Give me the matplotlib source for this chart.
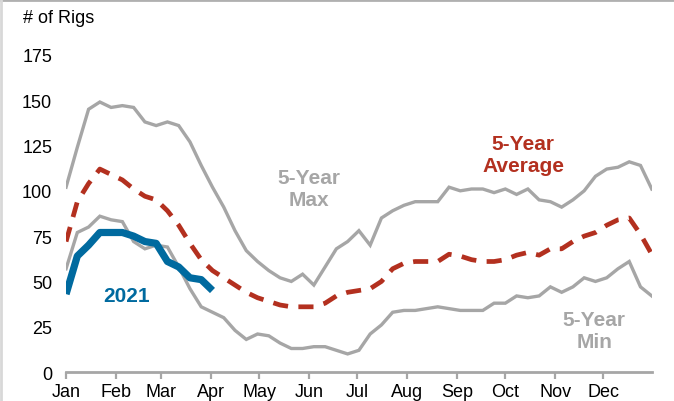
import numpy as np
import matplotlib.pyplot as plt
from matplotlib.lines import Line2D

plt.rcParams['font.family'] = ['Liberation Sans', 'DejaVu Sans']

# weekly rig counts, week 0 = first week of January
max_5yr = [102, 124, 145, 149, 146, 147, 146, 138, 136, 138, 136, 127, 114, 102,
           91, 78, 67, 61, 56, 52, 50, 54, 48, 58, 68, 72, 78, 70, 85, 89, 92,
           94, 94, 94, 102, 100, 101, 101, 99, 101, 98, 101, 95, 94, 91, 95,
           100, 108, 112, 113, 116, 114, 101]
min_5yr = [57, 77, 80, 86, 84, 83, 72, 68, 70, 69, 58, 46, 36, 33, 30, 23, 18,
           21, 20, 16, 13, 13, 14, 14, 12, 10, 12, 21, 26, 33, 34, 34, 35, 36,
           35, 34, 34, 34, 38, 38, 42, 41, 42, 47, 44, 47, 52, 50, 52, 57, 61,
           47, 42]
avg_5yr = [72, 94, 104, 112, 109, 106, 101, 97, 95, 89, 81, 71, 62, 56, 52, 48,
           44, 41, 39, 37, 36, 36, 36, 38, 42, 44, 45, 46, 50, 57, 60, 61, 61,
           61, 65, 64, 62, 61, 61, 62, 64.5, 66, 64.5, 68, 68, 72, 75, 77, 81,
           84, 85, 76, 65]
rigs_2021 = [43, 64, 70, 77, 77, 77, 75, 72, 71, 61, 58, 52, 51, 45]

months = ['Jan', 'Feb', 'Mar', 'Apr', 'May', 'Jun',
          'Jul', 'Aug', 'Sep', 'Oct', 'Nov', 'Dec']
month_start_day = [0, 31, 59, 90, 120, 151, 181, 212, 243, 273, 304, 334]

GRAY = '#a6a6a6'
RED = '#b3301f'
BLUE = '#006a9f'

fig = plt.figure(figsize=(6.74, 4.02), dpi=100)
ax = fig.add_axes([0.098, 0.072, 0.869, 0.789])

weeks = np.arange(len(max_5yr))
ax.plot(weeks, max_5yr, color=GRAY, lw=2.4, solid_joinstyle='miter')
ax.plot(weeks, min_5yr, color=GRAY, lw=2.4, solid_joinstyle='miter')
ax.plot(weeks, avg_5yr, color=RED, lw=3.4, dashes=(3.2, 2.2))
ax.plot(np.arange(len(rigs_2021)), rigs_2021, color=BLUE, lw=5.2,
        solid_capstyle='butt')

lab = dict(fontsize=15, fontweight='bold', ha='center', va='center',
           linespacing=1.2)
ax.text(21.6, 101.5, '5-Year\nMax', color=GRAY, **lab)
ax.text(40.6, 120, '5-Year\nAverage', color=RED, **lab)
ax.text(46.9, 23, '5-Year\nMin', color=GRAY, **lab)
ax.text(5.4, 42, '2021', color=BLUE, **lab)

ax.set_xlim(0, 52)
ax.set_ylim(0, 175)
ax.set_yticks(np.arange(0, 176, 25))
ax.set_xticks(np.array(month_start_day) / 7)
ax.set_xticklabels(months)

for s in ['top', 'right', 'left']:
    ax.spines[s].set_visible(False)
ax.spines['bottom'].set_color(GRAY)
ax.spines['bottom'].set_linewidth(2)
ax.tick_params(axis='y', length=0, pad=10, labelsize=13)
ax.tick_params(axis='x', length=5, width=1.6, color=GRAY, direction='out',
               pad=3, labelsize=13)

fig.text(0.034, 0.955, '# of Rigs', fontsize=13, va='center', ha='left')

# frame edges of the original clip
fig.add_artist(Line2D([0, 1], [0.997, 0.997], color='#b0b0b0', lw=2,
                      transform=fig.transFigure))
fig.add_artist(Line2D([0.002, 0.002], [0, 1], color='#d8d8d8', lw=2,
                      transform=fig.transFigure))

fig.savefig('out.png', dpi=100)
